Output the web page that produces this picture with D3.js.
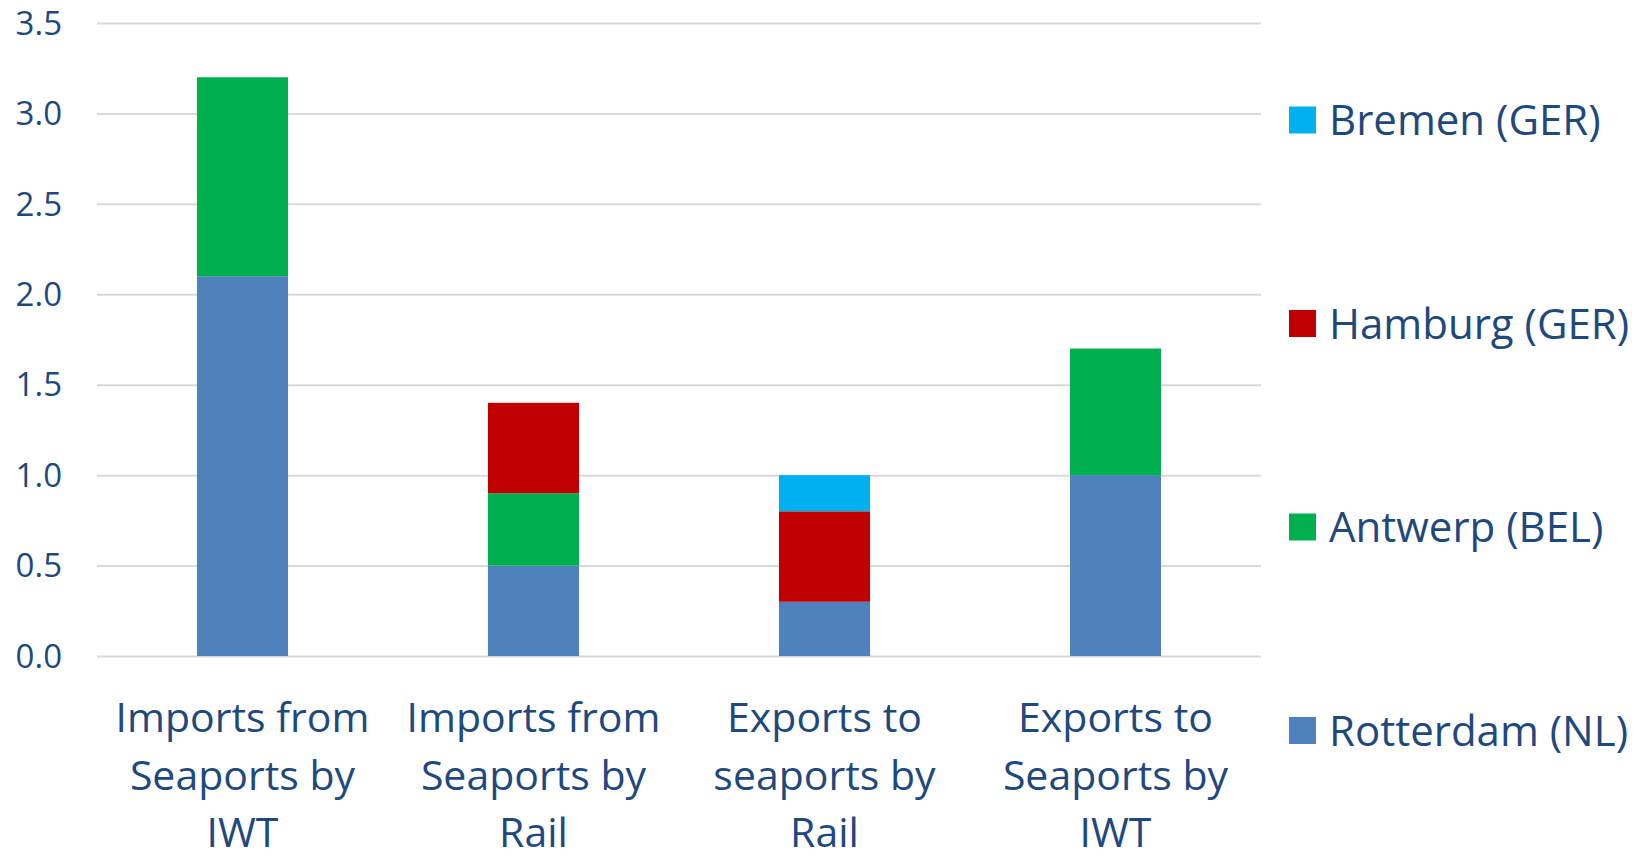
<!DOCTYPE html>
<html>
<head>
<meta charset="utf-8">
<script src="https://cdn.jsdelivr.net/npm/d3@7"></script>
<style>
  html, body { margin: 0; padding: 0; background: #ffffff; }
  svg { display: block; }
  text { font-family: "Open Sans", "Noto Sans", sans-serif; fill: #1F497D; }
</style>
</head>
<body>
<svg id="chart" width="1643" height="858"></svg>
<script>
// Categories (each label split into its display lines)
const categories = [
  ["Imports from", "Seaports by", "IWT"],
  ["Imports from", "Seaports by", "Rail"],
  ["Exports to", "seaports by", "Rail"],
  ["Exports to", "Seaports by", "IWT"]
];

// Series, stacked bottom to top
const seriesNames = ["Rotterdam (NL)", "Antwerp (BEL)", "Hamburg (GER)", "Bremen (GER)"];
const seriesColors = ["#4F81BD", "#00B050", "#C00000", "#00B0F0"];
const rotterdam = [2.1, 0.5, 0.3, 1.0];
const antwerp   = [1.1, 0.4, 0.0, 0.7];
const hamburg   = [0.0, 0.5, 0.5, 0.0];
const bremen    = [0.0, 0.0, 0.2, 0.0];

const yTicks = [0, 0.5, 1.0, 1.5, 2.0, 2.5, 3.0, 3.5];

const svg = d3.select("#chart");
const margin = { left: 97, right: 382, top: 23, bottom: 202 };
const W = 1643, H = 858;
const plotW = W - margin.left - margin.right;
const plotH = H - margin.top - margin.bottom;

const g = svg.append("g").attr("transform", `translate(${margin.left},${margin.top})`);

const x = d3.scaleBand()
  .domain(d3.range(categories.length))
  .range([0, plotW])
  .paddingInner(0.687)
  .paddingOuter(0.3435);

const y = d3.scaleLinear().domain([0, 3.5]).range([plotH, 0]);

// Gridlines and value axis labels
const yAxis = d3.axisLeft(y).tickValues(yTicks).tickFormat(d3.format(".1f")).tickSize(-plotW).tickPadding(35);
const ya = g.append("g").call(yAxis);
ya.select(".domain").remove();
ya.selectAll(".tick line").attr("stroke", "#D9D9D9").attr("stroke-width", 2);
ya.selectAll(".tick text")
  .attr("font-size", 33)
  .attr("font-family", "'Open Sans', sans-serif")
  .attr("fill", "#1F497D")
  .attr("dy", "0.34em");

// Stacked bars
const rows = categories.map((c, i) => ({
  i,
  "Rotterdam (NL)": rotterdam[i],
  "Antwerp (BEL)": antwerp[i],
  "Hamburg (GER)": hamburg[i],
  "Bremen (GER)": bremen[i]
}));
const stack = d3.stack().keys(seriesNames)(rows);

g.append("g").selectAll("g")
  .data(stack)
  .join("g")
  .attr("fill", (d, k) => seriesColors[k])
  .selectAll("rect")
  .data(d => d.filter(p => p[1] - p[0] > 0))
  .join("rect")
  .attr("x", d => x(d.data.i))
  .attr("width", x.bandwidth())
  .attr("y", d => y(d[1]))
  .attr("height", d => y(d[0]) - y(d[1]));

// Category labels
const catG = g.append("g").attr("transform", `translate(0,${plotH})`);
categories.forEach((lines, i) => {
  const t = catG.append("text")
    .attr("text-anchor", "middle")
    .attr("font-size", 41)
    .attr("x", x(i) + x.bandwidth() / 2);
  lines.forEach((ln, j) => {
    t.append("tspan")
      .attr("x", x(i) + x.bandwidth() / 2)
      .attr("y", 76 + j * 57.5)
      .text(ln);
  });
});

// Legend (top to bottom: last series first)
const legendItems = seriesNames.map((n, k) => ({ name: n, color: seriesColors[k] })).reverse();
const leg = svg.append("g").attr("transform", "translate(1289,0)");
legendItems.forEach((d, k) => {
  const cy = 120 + k * 203.5;
  leg.append("rect")
    .attr("x", 0).attr("y", cy - 13.5)
    .attr("width", 27).attr("height", 27)
    .attr("fill", d.color);
  leg.append("text")
    .attr("x", 40).attr("y", cy)
    .attr("dy", "0.36em")
    .attr("font-size", 42)
    .text(d.name);
});
</script>
</body>
</html>
